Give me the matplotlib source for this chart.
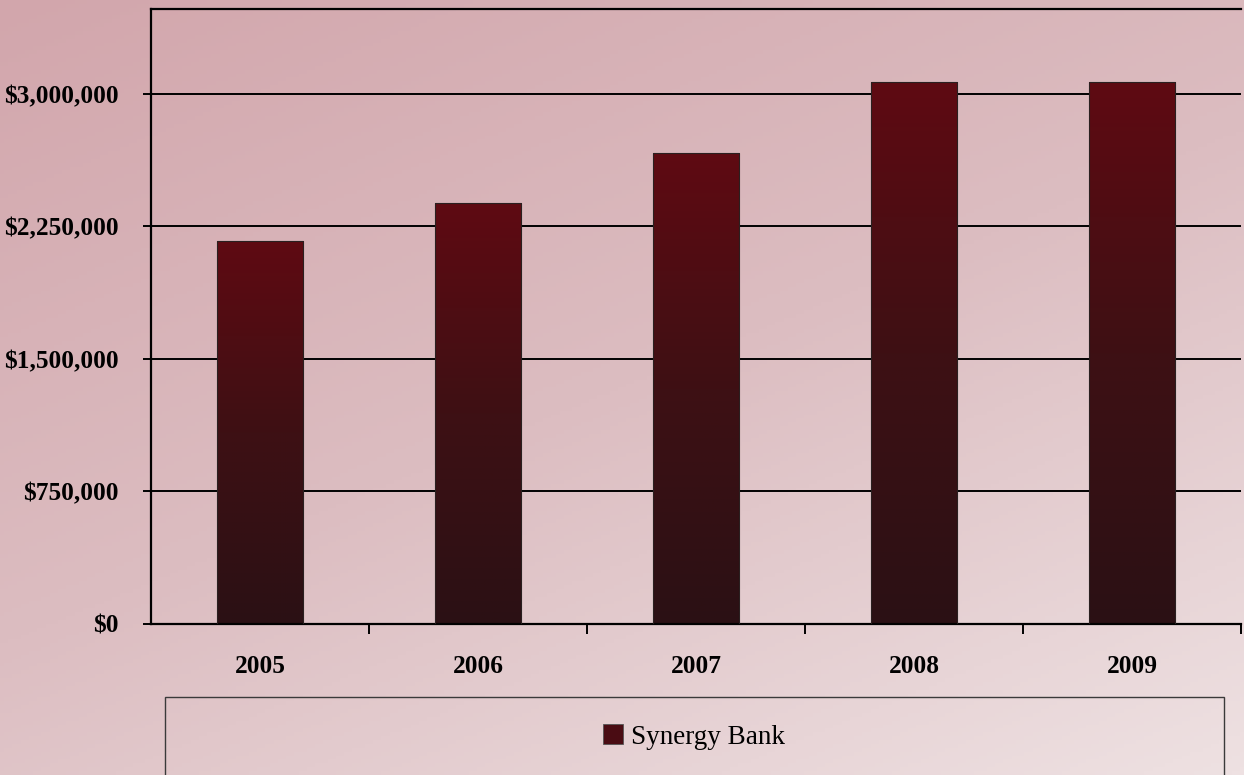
import matplotlib
matplotlib.use("Agg")
import matplotlib.pyplot as plt
import numpy as np
from matplotlib.colors import LinearSegmentedColormap
from matplotlib.patches import Rectangle, Patch
from matplotlib.ticker import FuncFormatter

# datos
years = ["2005", "2006", "2007", "2008", "2009"]
values = [2168000, 2383000, 2664000, 3068000, 3068000]
y_ticks = [0, 750000, 1500000, 2250000, 3000000]
series_name = "Synergy Bank"

plt.rcParams['font.family'] = ['Liberation Serif', 'DejaVu Serif']

fig = plt.figure(figsize=(12.44, 7.75), dpi=100)

# fondo rosado con degradado diagonal
bg = fig.add_axes([0, 0, 1, 1], zorder=-10)
bg_cmap = LinearSegmentedColormap.from_list("bg", ["#d2a6ac", "#dcbdc1", "#eee1e2"])
gx, gy = np.meshgrid(np.linspace(0, 1, 300), np.linspace(0, 1, 200))
bg.imshow(0.4 * gx + 0.6 * gy, cmap=bg_cmap, aspect="auto",
          extent=(0, 1, 1, 0), origin="upper")
bg.set_xlim(0, 1)
bg.set_ylim(1, 0)
bg.axis("off")

ax = fig.add_axes([151 / 1244, 151 / 775, 1090 / 1244, 615 / 775])
ax.patch.set_alpha(0)

x = np.arange(len(years))
bars = ax.bar(x, values, width=0.395, color="none", edgecolor="#2a2020",
              linewidth=0.8, zorder=3)

# degradado de cada barra (rojo arriba, casi negro abajo)
bar_cmap = LinearSegmentedColormap.from_list("bar", ["#2b1114", "#3e1014", "#5f0a12"])
grad = np.linspace(0, 1, 256).reshape(-1, 1)
for b in bars:
    x0 = b.get_x()
    w = b.get_width()
    h = b.get_height()
    im = ax.imshow(grad, cmap=bar_cmap, aspect="auto", origin="lower",
                   extent=(x0, x0 + w, 0, h), zorder=2)
    im.set_clip_path(b)

ax.set_xlim(-0.5, len(years) - 0.5)
ax.set_ylim(0, 3480000)

ax.set_yticks(y_ticks)
ax.yaxis.set_major_formatter(FuncFormatter(lambda v, p: "${:,.0f}".format(v)))
ax.set_xticks(x)
ax.set_xticklabels(years)
ax.set_xticks(np.arange(len(years)) + 0.5, minor=True)

ax.grid(axis="y", color="black", linewidth=1.4, zorder=1)
ax.set_axisbelow(True)

for s in ["left", "top", "bottom"]:
    ax.spines[s].set_color("black")
    ax.spines[s].set_linewidth(1.6)
ax.spines["right"].set_visible(False)

ax.tick_params(axis="y", length=6, width=1.4, pad=17, labelsize=18.3)
ax.tick_params(axis="x", which="major", length=0, pad=22, labelsize=18.3)
ax.tick_params(axis="x", which="minor", length=7, width=1.4)
for lab in ax.get_xticklabels() + ax.get_yticklabels():
    lab.set_fontweight("bold")

# caja de la leyenda
fig.patches.append(Rectangle((165 / 1244, -0.05), 1059 / 1244, 0.05 + 78 / 775,
                             transform=fig.transFigure, fill=False,
                             edgecolor="#3a3a3a", linewidth=1.0))
handle = Patch(facecolor="#4a0c13", edgecolor="#555555", linewidth=0.6)
fig.legend([handle], [series_name], loc="center", frameon=False,
           bbox_to_anchor=(694 / 1244, 38 / 775), fontsize=19.5,
           handlelength=0.75, handleheight=0.75, handletextpad=0.3)

fig.savefig("out.png", dpi=100)
